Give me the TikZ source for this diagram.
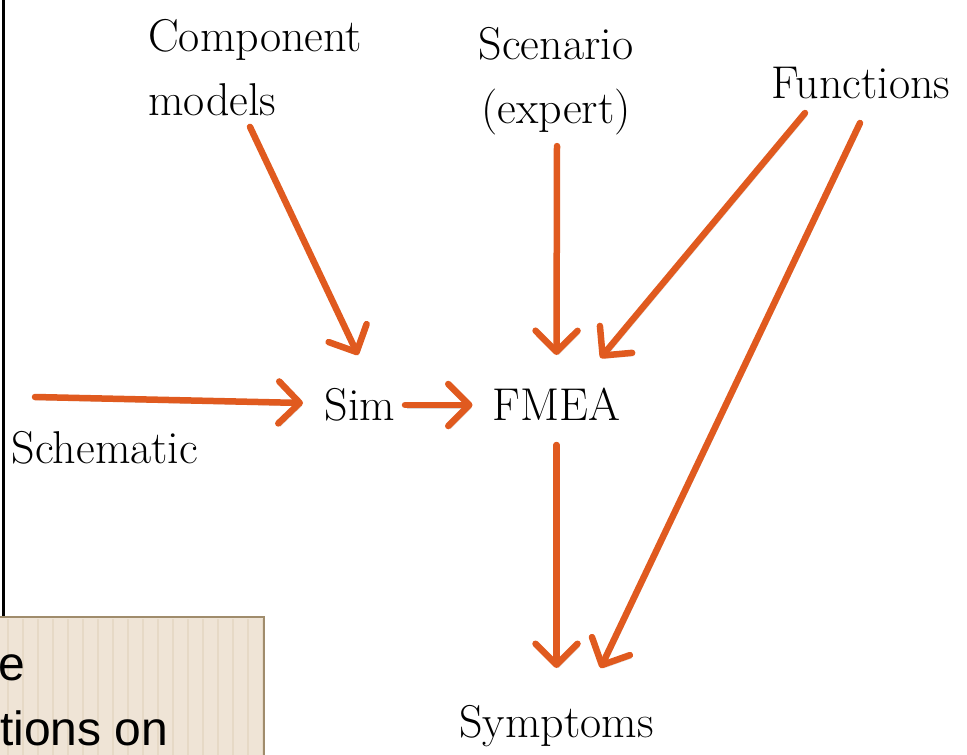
\documentclass[tikz,border=0pt]{standalone}
\usepackage{fontspec}
\newfontfamily\boxfont{Liberation Sans}
\usetikzlibrary{arrows.meta,calc}
\definecolor{arr}{HTML}{E05A1F}
\definecolor{boxfill}{HTML}{EFE4D6}
\definecolor{boxstripe}{HTML}{E6D9C6}
\definecolor{boxline}{HTML}{A08C6C}
\begin{document}
\begin{tikzpicture}[x=1pt,y=-1pt,
  lbl/.style={inner sep=0pt, font=\fontsize{46}{64}\selectfont},
  conn/.style={draw=arr, line width=6.5pt, line cap=round,
    -{Straight Barb[length=21pt,width=42pt,line cap=round,line join=round]},
    preaction={draw=black!60, opacity=0.25, transform canvas={shift={(2pt,-3pt)}}}}]
\useasboundingbox (0,0) rectangle (967,755);
\clip (0,0) rectangle (967,755);
% frame line at left
\draw[line width=3pt] (3,-5) -- (3,617);
% note box
\fill[boxfill] (-5,617) rectangle (264,760);
\foreach \i in {0,...,17} {\draw[boxstripe, line width=2.5pt] (8+15*\i,619) -- (8+15*\i,760);}
\draw[boxline, line width=2pt] (-5,617) -- (264,617) -- (264,760);
\node[inner sep=0pt, anchor=base west, font=\boxfont\fontsize{48}{65}\selectfont] (n1) at (-2,680) {e};
\node[inner sep=0pt, anchor=base west, font=\boxfont\fontsize{48}{65}\selectfont] (n2) at (0,745) {tions on};
% labels
\node[lbl, align=left, anchor=north west] (comp) at (148,19) {Component\\models};
\node[lbl, align=center, anchor=north] (scen) at (556,27) {Scenario\\(expert)};
\node[lbl, anchor=base] (func) at (861,98) {Functions};
\node[lbl, anchor=base] (sim) at (360,420) {Sim};
\node[lbl, anchor=base] (fmea) at (556.5,420) {FMEA};
\node[lbl, anchor=base] (schem) at (105,463) {Schematic};
\node[lbl, anchor=base] (symp) at (556.5,737) {Symptoms};
% connectors
\draw[conn] ($(comp.south west)+(102,11)$) -- ($(sim.base)+(-2,-65)$);
\draw[conn] ($(scen.south)+(1,11)$) -- ($(fmea.base)+(0,-65)$);
\draw[conn] ($(func.base)+(-56,15)$) -- ($(fmea.base)+(44,-62)$);
\draw[conn] ($(func.base)+(-1,25)$) -- ($(symp.base)+(44,-69)$);
\draw[conn] ($(schem.base)+(-70,-66)$) -- ($(sim.base)+(-57,-17)$);
\draw[conn] ($(sim.base)+(45,-15)$) -- ($(fmea.base)+(-84,-15)$);
\draw[conn] ($(fmea.base)+(0,25)$) -- ($(symp.base)+(0,-69)$);
\end{tikzpicture}
\end{document}
